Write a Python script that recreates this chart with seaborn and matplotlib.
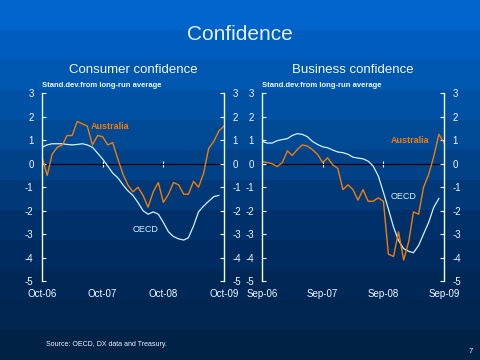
import numpy as np
import pandas as pd
import matplotlib
matplotlib.use("Agg")
import matplotlib.pyplot as plt
from matplotlib.colors import LinearSegmentedColormap
import seaborn as sns

# monthly data, standard deviations from long-run average
cons_months = pd.date_range("2006-10-01", periods=37, freq="MS")
cons_aus = [0.3, -0.5, 0.4, 0.7, 0.8, 1.2, 1.2, 1.8, 1.7, 1.6, 0.8, 1.2, 1.15,
            0.8, 0.9, 0.2, -0.45, -0.9, -1.2, -1.0, -1.35, -1.85, -1.2, -0.8,
            -1.65, -1.3, -0.8, -0.9, -1.3, -1.3, -0.75, -1.0, -0.4, 0.65, 0.95,
            1.4, 1.6]
cons_oecd = [0.7, 0.8, 0.85, 0.85, 0.85, 0.82, 0.8, 0.82, 0.85, 0.8, 0.7, 0.45,
             0.2, -0.1, -0.4, -0.6, -0.9, -1.15, -1.35, -1.65, -2.0, -2.15,
             -2.05, -2.15, -2.5, -2.9, -3.1, -3.2, -3.25, -3.15, -2.65, -2.05,
             -1.8, -1.6, -1.4, -1.35]

bus_months = pd.date_range("2006-09-01", periods=37, freq="MS")
bus_aus = [0.1, 0.05, 0.0, -0.12, 0.05, 0.55, 0.35, 0.6, 0.8, 0.75, 0.6, 0.4,
           0.05, 0.25, -0.05, -0.2, -1.1, -0.9, -1.1, -1.55, -1.1, -1.6, -1.6,
           -1.45, -1.6, -3.85, -3.95, -2.9, -4.1, -3.3, -2.05, -2.15, -1.0,
           -0.45, 0.3, 1.25, 0.9]
bus_oecd = [0.95, 0.88, 0.88, 0.98, 1.03, 1.07, 1.2, 1.28, 1.25, 1.15, 0.95,
            0.82, 0.72, 0.68, 0.58, 0.5, 0.47, 0.4, 0.28, 0.24, 0.21, 0.11,
            -0.1, -0.52, -1.22, -1.93, -2.7, -3.27, -3.62, -3.73, -3.79, -3.48,
            -2.99, -2.49, -1.86, -1.48]

cons_ticks = ["2006-10-01", "2007-10-01", "2008-10-01", "2009-10-01"]
cons_ticklabels = ["Oct-06", "Oct-07", "Oct-08", "Oct-09"]
bus_ticks = ["2006-09-01", "2007-09-01", "2008-09-01", "2009-09-01"]
bus_ticklabels = ["Sep-06", "Sep-07", "Sep-08", "Sep-09"]
y_ticks = [3, 2, 1, 0, -1, -2, -3, -4, -5]

plt.rcParams["font.family"] = ["Liberation Sans", "DejaVu Sans"]
WHITE = "#f2f8ff"
ORANGE = "#f07d0a"
LIGHT = "#d4f2ff"

fig = plt.figure(figsize=(4.8, 3.6), dpi=100)

# banded blue background
bg = fig.add_axes([0, 0, 1, 1], zorder=-10)
cmap = LinearSegmentedColormap.from_list("bg", ["#0064cc", "#004c9a", "#002e66", "#002247"])
bands = np.floor(np.linspace(0, 12, 360, endpoint=False)) / 11
bg.imshow(bands.reshape(-1, 1), aspect="auto", cmap=cmap, extent=[0, 1, 0, 1])
bg.axis("off")

fig.text(0.5, 0.903, "Confidence", ha="center", va="center", fontsize=15, color="#e6f2ff")


def panel(rect, months, aus, oecd, ticks, ticklabels, title, aus_pos, oecd_pos):
    ax = fig.add_axes(rect)
    ax.set_facecolor("none")
    sns.lineplot(x=months[:len(oecd)], y=oecd, ax=ax, color=LIGHT, linewidth=0.9)
    sns.lineplot(x=months[:len(aus)], y=aus, ax=ax, color=ORANGE, linewidth=1.0)
    ax.set_xlim(months[0], months[-1])
    ax.set_ylim(-5, 3)
    ax.set_yticks(y_ticks)
    ax.set_yticklabels([str(t) for t in y_ticks])
    ax.set_xticks(pd.to_datetime(ticks))
    ax.set_xticklabels(ticklabels)
    ax.tick_params(axis="x", length=0, colors=WHITE, labelsize=7, pad=6)
    ax.tick_params(axis="y", direction="in", length=3, colors=WHITE, labelsize=7,
                   left=True, right=True, labelleft=True, labelright=True, pad=6)
    for s in ["top", "bottom"]:
        ax.spines[s].set_visible(False)
    for s in ["left", "right"]:
        ax.spines[s].set_color(WHITE)
        ax.spines[s].set_linewidth(1.0)
    # zero line with the year ticks on it
    zero = ax.secondary_xaxis(5 / 8)
    zero.set_xticks(pd.to_datetime(ticks[1:-1]))
    zero.set_xticklabels([])
    zero.tick_params(direction="inout", length=5, colors=WHITE,
                     labelbottom=False, labeltop=False)
    zero.spines["bottom"].set_color(WHITE)
    zero.spines["bottom"].set_linewidth(1.0)
    ax.set_xlabel("")
    ax.text(0.0, 1.025, "Stand.dev.from long-run average", transform=ax.transAxes,
            fontsize=5.5, color=WHITE, fontweight="bold", va="bottom")
    ax.text(0.5, 1.09, title, transform=ax.transAxes, ha="center", va="bottom",
            fontsize=9.5, color=WHITE)
    ax.text(pd.Timestamp(aus_pos[0]), aus_pos[1], "Australia", color=ORANGE,
            fontsize=6.5, fontweight="bold", ha="center", va="center")
    ax.text(pd.Timestamp(oecd_pos[0]), oecd_pos[1], "OECD", color=LIGHT,
            fontsize=6.5, ha="center", va="center")
    return ax


panel([0.0875, 0.219, 0.379, 0.522], cons_months, cons_aus, cons_oecd,
      cons_ticks, cons_ticklabels, "Consumer confidence",
      ("2007-11-15", 1.6), ("2008-06-15", -2.8))
panel([0.546, 0.219, 0.379, 0.522], bus_months, bus_aus, bus_oecd,
      bus_ticks, bus_ticklabels, "Business confidence",
      ("2009-02-10", 1.0), ("2009-01-01", -1.4))

fig.text(0.096, 0.04, "Source: OECD, DX data and Treasury.", fontsize=5, color=WHITE)
fig.text(0.985, 0.02, "7", fontsize=5.5, color=WHITE, ha="right")

fig.savefig("out.png", dpi=100)
